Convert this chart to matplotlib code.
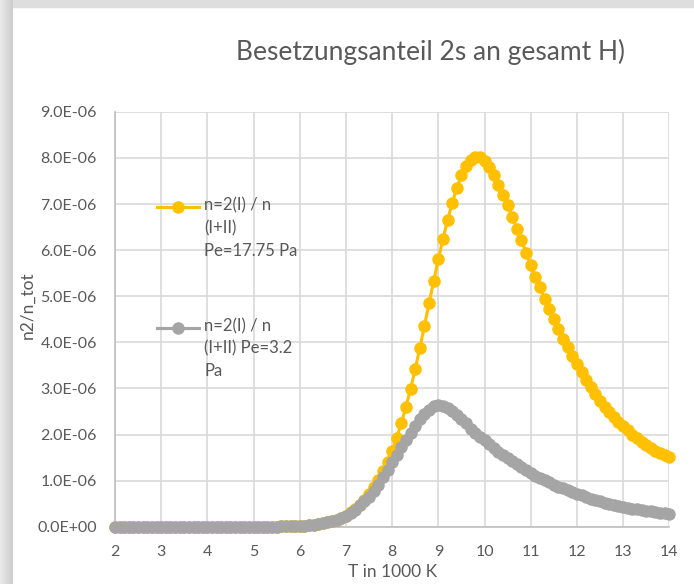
import numpy as np
import matplotlib
matplotlib.use("Agg")
import matplotlib.pyplot as plt
from matplotlib.lines import Line2D
from matplotlib.ticker import FuncFormatter, MultipleLocator

plt.rcParams['font.family'] = ['Lato', 'DejaVu Sans']

# temperature in 1000 K, one point every 0.1 from 2 to 14
T = np.round(np.arange(2.0, 14.01, 0.1), 1)

# n2/n_tot in units of 1e-6
pe_1775 = [0.0] * 30 + [
    0.001, 0.001, 0.002, 0.002, 0.003, 0.004, 0.006, 0.008, 0.011, 0.015,   # 5.0 - 5.9
    0.02, 0.026, 0.034, 0.045, 0.058, 0.075, 0.095, 0.12, 0.15, 0.19,       # 6.0 - 6.9
    0.24, 0.31, 0.39, 0.48, 0.59, 0.72, 0.86, 1.02, 1.20, 1.41,             # 7.0 - 7.9
    1.64, 1.93, 2.25, 2.60, 2.99, 3.42, 3.88, 4.36, 4.85, 5.33,             # 8.0 - 8.9
    5.80, 6.24, 6.65, 7.02, 7.35, 7.62, 7.82, 7.96, 8.03, 8.02,             # 9.0 - 9.9
    7.94, 7.80, 7.62, 7.42, 7.20, 6.97, 6.72, 6.46, 6.21, 5.94,             # 10.0 - 10.9
    5.68, 5.42, 5.19, 4.95, 4.72, 4.50, 4.29, 4.08, 3.89, 3.70,             # 11.0 - 11.9
    3.52, 3.35, 3.19, 3.03, 2.88, 2.72, 2.60, 2.49, 2.38, 2.28,             # 12.0 - 12.9
    2.18, 2.09, 2.00, 1.92, 1.84, 1.77, 1.71, 1.65, 1.60, 1.56,             # 13.0 - 13.9
    1.52]
pe_32 = [0.0] * 30 + [
    0.001, 0.001, 0.002, 0.002, 0.003, 0.004, 0.006, 0.008, 0.011, 0.015,
    0.02, 0.026, 0.034, 0.045, 0.058, 0.075, 0.095, 0.12, 0.15, 0.19,
    0.24, 0.30, 0.37, 0.46, 0.55, 0.65, 0.77, 0.91, 1.07, 1.24,
    1.41, 1.56, 1.72, 1.88, 2.04, 2.19, 2.33, 2.45, 2.54, 2.61,
    2.64, 2.62, 2.58, 2.51, 2.43, 2.34, 2.24, 2.13, 2.03, 1.95,
    1.88, 1.79, 1.71, 1.63, 1.56, 1.49, 1.42, 1.35, 1.29, 1.23,
    1.17, 1.11, 1.06, 1.01, 0.96, 0.91, 0.87, 0.83, 0.79, 0.75,
    0.71, 0.68, 0.64, 0.61, 0.58, 0.55, 0.52, 0.49, 0.47, 0.44,
    0.42, 0.41, 0.39, 0.38, 0.36, 0.35, 0.33, 0.32, 0.30, 0.29,
    0.27]

labels = ["n=2(I) / n\n(I+II)\nPe=17.75 Pa", "n=2(I) / n\n(I+II) Pe=3.2\nPa"]
colors = ["#FFC000", "#A5A5A5"]
txt = "#595959"

W, H = 694, 584
fig = plt.figure(figsize=(W / 100, H / 100), dpi=100)
fig.patch.set_facecolor("white")

# grey window frame at left / top
band = fig.add_axes([0, 0, 13 / W, 1])
band.imshow(np.linspace(0.92, 0.80, 50)[None, :], cmap="gray", vmin=0, vmax=1, aspect="auto")
band.axis("off")
fig.patches.append(plt.Rectangle((0, 1 - 7 / H), 1, 7 / H, transform=fig.transFigure,
                                 color="#dedede", zorder=-1))

ax = fig.add_axes([115 / W, (H - 526.7) / H, 554.3 / W, 414.9 / H])
y1 = np.array(pe_1775) * 1e-6
y2 = np.array(pe_32) * 1e-6
ax.plot(T, y1, color=colors[0], lw=2.25, marker="o", ms=8, zorder=3, clip_on=False)
ax.plot(T, y2, color=colors[1], lw=2.25, marker="o", ms=8, zorder=4, clip_on=False)

ax.set_xlim(2, 14)
ax.set_ylim(0, 9e-6)
ax.xaxis.set_major_locator(MultipleLocator(1))
ax.yaxis.set_major_locator(MultipleLocator(1e-6))
ax.yaxis.set_major_formatter(FuncFormatter(lambda v, p: f"{v:.1E}"))
ax.grid(True, color="#d9d9d9", lw=1.2)
ax.set_axisbelow(True)
for s in ["top", "right"]:
    ax.spines[s].set_visible(False)
for s in ["left", "bottom"]:
    ax.spines[s].set_color("#bfbfbf")
    ax.spines[s].set_linewidth(1.2)
ax.tick_params(length=0, labelsize=11.5, labelcolor=txt)
ax.tick_params(axis="y", pad=13)
ax.tick_params(axis="x", pad=13)

ax.set_xlabel("T in 1000 K", fontsize=12.5, color=txt, labelpad=4)
ax.set_ylabel("n2/n_tot", fontsize=12.5, color=txt)
ax.yaxis.set_label_coords(-0.143, 0.534)

fig.text(430 / W, 1 - 52 / H, "Besetzungsanteil 2s an gesamt H)", ha="center", va="center",
         fontsize=19, color=txt)

# legend drawn inside the plot area like the original
for (ly, ty), lab, c in zip([(0.7705, 0.794), (0.479, 0.503)], labels, colors):
    ax.add_line(Line2D([0.0758, 0.1515], [ly, ly], transform=ax.transAxes, color=c, lw=2.25, zorder=5))
    ax.add_line(Line2D([0.1137], [ly], transform=ax.transAxes, color=c, marker="o", ms=8, zorder=5))
    ax.text(0.1606, ty, lab, transform=ax.transAxes, ha="left", va="top", fontsize=12,
            color=txt, linespacing=1.5, zorder=5)

fig.savefig("out.png", dpi=100)
